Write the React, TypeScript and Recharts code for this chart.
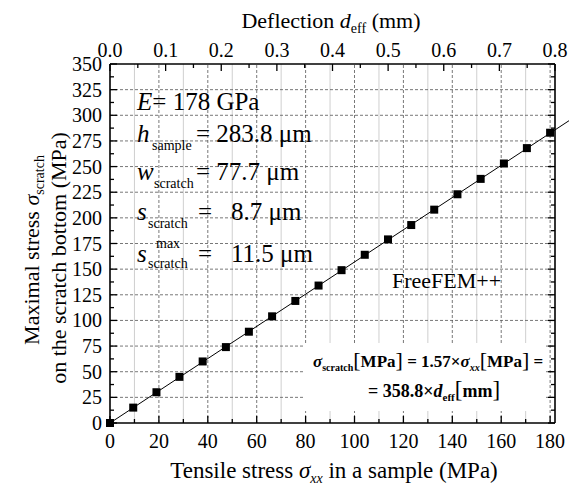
import React from "react";
import {
  ComposedChart,
  Scatter,
  XAxis,
  YAxis,
  ReferenceLine
} from "recharts";

// tensile stress in the sample (MPa) and max stress at the scratch bottom (MPa)
const stressXX = [0, 9.5, 19, 28.4, 37.9, 47.4, 56.8, 66.3, 75.8, 85.3, 94.7, 104.2, 113.7, 123.2, 132.6, 142.1, 151.6, 161.1, 170.5, 180];
const stressScratch = [0, 15, 30, 45, 60, 74, 89, 104, 119, 134, 149, 164, 179, 193, 208, 223, 238, 253, 268, 283];

// linear fit sigma_scratch = 1.57 * sigma_xx
const fitX = [0, 190];
const fitY = [0, 298.3];

const bottomTicks = [0, 10, 20, 30, 40, 50, 60, 70, 80, 90, 100, 110, 120, 130, 140, 150, 160, 170, 180];
const bottomLabels = [0, 20, 40, 60, 80, 100, 120, 140, 160, 180];
const topTicks = [0, 0.05, 0.1, 0.15, 0.2, 0.25, 0.3, 0.35, 0.4, 0.45, 0.5, 0.55, 0.6, 0.65, 0.7, 0.75, 0.8];
const topLabels = [0, 0.1, 0.2, 0.3, 0.4, 0.5, 0.6, 0.7, 0.8];
const leftTicks = [0, 12.5, 25, 37.5, 50, 62.5, 75, 87.5, 100, 112.5, 125, 137.5, 150, 162.5, 175, 187.5, 200, 212.5, 225, 237.5, 250, 262.5, 275, 287.5, 300, 312.5, 325, 337.5, 350];
const leftLabels = [0, 25, 50, 75, 100, 125, 150, 175, 200, 225, 250, 275, 300, 325, 350];

const gridMajorX = [20, 40, 60, 80, 100, 120, 140, 160, 180];
const gridMinorX = [10, 30, 50, 70, 90, 110, 130, 150, 170];
const gridMajorY = [25, 50, 75, 100, 125, 150, 175, 200, 225, 250, 275, 300, 325];

const points = stressXX.map((x, i) => ({ x, y: stressScratch[i] }));
// invisible anchor so the deflection axis gets a domain
const topAnchor = topLabels.map((d) => ({ d, y: 0 }));

const FONT = "'Liberation Serif', 'Times New Roman', serif";
const GAP = 4;

const has = (arr: number[], v: number) => arr.some((a) => Math.abs(a - v) < 1e-6);

function BottomTick(props: any) {
  const { x, y, payload } = props;
  const axisY = y - GAP;
  const major = has(bottomLabels, payload.value);
  return (
    <g>
      <line x1={x} x2={x} y1={axisY} y2={axisY - (major ? 7 : 4)} stroke="#000" strokeWidth={1.3} />
      {major && (
        <text x={x} y={axisY + 25} textAnchor="middle" fontFamily={FONT} fontSize={20} fill="#000">
          {payload.value}
        </text>
      )}
    </g>
  );
}

function TopTick(props: any) {
  const { x, y, payload } = props;
  const axisY = y + GAP;
  const major = has(topLabels, payload.value);
  return (
    <g>
      <line x1={x} x2={x} y1={axisY} y2={axisY + (major ? 7 : 4)} stroke="#000" strokeWidth={1.3} />
      {major && (
        <text x={x} y={axisY - 7} textAnchor="middle" fontFamily={FONT} fontSize={20} fill="#000">
          {Number(payload.value).toFixed(1)}
        </text>
      )}
    </g>
  );
}

function LeftTick(props: any) {
  const { x, y, payload } = props;
  const axisX = x + GAP;
  const major = has(leftLabels, payload.value);
  return (
    <g>
      <line x1={axisX} x2={axisX + (major ? 7 : 4)} y1={y} y2={y} stroke="#000" strokeWidth={1.3} />
      {major && (
        <text x={axisX - 8} y={y + 7} textAnchor="end" fontFamily={FONT} fontSize={20} fill="#000">
          {payload.value}
        </text>
      )}
    </g>
  );
}

function RightTick(props: any) {
  const { x, y, payload } = props;
  const axisX = x - GAP;
  const major = has(leftLabels, payload.value);
  return <line x1={axisX} x2={axisX - (major ? 7 : 4)} y1={y} y2={y} stroke="#000" strokeWidth={1.3} />;
}

const square = (p: any) => <rect x={p.cx - 4} y={p.cy - 4} width={8} height={8} fill="#000" />;
const nothing = () => <g />;

function Annotations() {
  const sub = { fontSize: 14 };
  return (
    <svg width={569} height={494} style={{ position: "absolute", left: 0, top: 0, pointerEvents: "none" }}>
      <g fontFamily={FONT} fill="#000">
        {/* top axis title */}
        <text x={331} y={28} textAnchor="middle" fontSize={22}>
          Deflection <tspan fontStyle="italic">d</tspan>
          <tspan fontSize={14} dy={5}>eff</tspan>
          <tspan dy={-5}> (mm)</tspan>
        </text>
        {/* bottom axis title */}
        <text x={334} y={478} textAnchor="middle" fontSize={23}>
          Tensile stress <tspan fontStyle="italic">σ</tspan>
          <tspan fontSize={14} fontStyle="italic" dy={5}>xx</tspan>
          <tspan dy={-5}> in a sample (MPa)</tspan>
        </text>
        {/* left axis title */}
        <text transform="rotate(-90 39 250)" x={39} y={250} textAnchor="middle" fontSize={22}>
          Maximal stress <tspan fontStyle="italic">σ</tspan>
          <tspan fontSize={14} dy={5}>scratch</tspan>
        </text>
        <text transform="rotate(-90 66 258)" x={66} y={258} textAnchor="middle" fontSize={22}>
          on the scratch bottom (MPa)
        </text>

        {/* parameters */}
        <g fontSize={25}>
          <text x={137} y={110}>
            <tspan fontStyle="italic">E</tspan>= 178 GPa
          </text>
          <text x={137} y={142}>
            <tspan fontStyle="italic">h</tspan>
          </text>
          <text x={152} y={150} {...sub}>sample</text>
          <text x={196} y={142}>= 283.8 μm</text>

          <text x={137} y={180}>
            <tspan fontStyle="italic">w</tspan>
          </text>
          <text x={154} y={188} {...sub}>scratch</text>
          <text x={196} y={180}>= 77.7 μm</text>

          <text x={137} y={220}>
            <tspan fontStyle="italic">s</tspan>
          </text>
          <text x={148} y={228} {...sub}>scratch</text>
          <text x={198} y={220}>=</text>
          <text x={231} y={220}>8.7 μm</text>

          <text x={137} y={262}>
            <tspan fontStyle="italic">s</tspan>
          </text>
          <text x={156} y={248} {...sub}>max</text>
          <text x={148} y={268} {...sub}>scratch</text>
          <text x={198} y={262}>=</text>
          <text x={231} y={262}>11.5 μm</text>
        </g>

        <text x={392} y={288} fontSize={22}>FreeFEM++</text>

        {/* fit formula */}
        <rect x={304} y={343} width={242} height={68} fill="#fff" />
        <g fontWeight="bold" fontSize={17}>
          <text x={313} y={367}>
            <tspan fontStyle="italic">σ</tspan>
            <tspan fontSize={10} dy={4}>scratch</tspan>
            <tspan dy={-4} fontSize={22} fontWeight="normal">[</tspan>
            <tspan>MPa</tspan>
            <tspan fontSize={22} fontWeight="normal">]</tspan>
            <tspan> = 1.57×</tspan>
            <tspan fontStyle="italic">σ</tspan>
            <tspan fontSize={10} fontStyle="italic" dy={4}>xx</tspan>
            <tspan dy={-4} fontSize={22} fontWeight="normal">[</tspan>
            <tspan>MPa</tspan>
            <tspan fontSize={22} fontWeight="normal">]</tspan>
            <tspan> =</tspan>
          </text>
          <text x={368} y={397} fontSize={18}>
            = 358.8×<tspan fontStyle="italic">d</tspan>
            <tspan fontSize={11} dy={4}>eff</tspan>
            <tspan dy={-4} fontSize={23} fontWeight="normal">[</tspan>
            <tspan>mm</tspan>
            <tspan fontSize={23} fontWeight="normal">]</tspan>
          </text>
        </g>
      </g>
    </svg>
  );
}

export default function App() {
  return (
    <div style={{ position: "absolute", left: 0, top: 0, width: 569, height: 494, background: "#fff" }}>
      <ComposedChart width={569} height={494} margin={{ top: 0, right: 0, bottom: 0, left: 0 }}>
        <XAxis
          xAxisId="bottom"
          type="number"
          dataKey="x"
          domain={[0, 182]}
          ticks={bottomTicks}
          interval={0}
          height={71}
          tickSize={0}
          tickMargin={GAP}
          tickLine={false}
          axisLine={{ stroke: "#000", strokeWidth: 1.6 }}
          tick={(p: any) => <BottomTick {...p} />}
        />
        <XAxis
          xAxisId="top"
          orientation="top"
          type="number"
          dataKey="d"
          domain={[0, 0.8]}
          ticks={topTicks}
          interval={0}
          height={64}
          tickSize={0}
          tickMargin={GAP}
          tickLine={false}
          axisLine={{ stroke: "#000", strokeWidth: 1.6 }}
          tick={(p: any) => <TopTick {...p} />}
        />
        <YAxis
          yAxisId="left"
          type="number"
          dataKey="y"
          domain={[0, 350]}
          ticks={leftTicks}
          interval={0}
          width={110}
          tickSize={0}
          tickMargin={GAP}
          tickLine={false}
          axisLine={{ stroke: "#000", strokeWidth: 1.6 }}
          tick={(p: any) => <LeftTick {...p} />}
        />
        <YAxis
          yAxisId="right"
          orientation="right"
          type="number"
          domain={[0, 350]}
          ticks={leftTicks}
          interval={0}
          width={14}
          tickSize={0}
          tickMargin={GAP}
          tickLine={false}
          axisLine={{ stroke: "#000", strokeWidth: 1.6 }}
          tick={(p: any) => <RightTick {...p} />}
        />
        {gridMinorX.map((v) => (
          <ReferenceLine key={"mx" + v} x={v} xAxisId="bottom" yAxisId="left" stroke="#cfcfcf" strokeWidth={1} />
        ))}
        {gridMajorX.map((v) => (
          <ReferenceLine key={"gx" + v} x={v} xAxisId="bottom" yAxisId="left" stroke="#555" strokeWidth={0.8} strokeDasharray="3 2" />
        ))}
        {gridMajorY.map((v) => (
          <ReferenceLine key={"gy" + v} y={v} xAxisId="bottom" yAxisId="left" stroke="#555" strokeWidth={0.8} strokeDasharray="3 2" />
        ))}
        <ReferenceLine
          xAxisId="bottom"
          yAxisId="left"
          segment={[
            { x: fitX[0], y: fitY[0] },
            { x: fitX[1], y: fitY[1] }
          ]}
          ifOverflow="visible"
          stroke="#000"
          strokeWidth={1}
        />
        <Scatter
          xAxisId="top"
          yAxisId="right"
          data={topAnchor}
          dataKey="y"
          shape={nothing}
          isAnimationActive={false}
        />
        <Scatter
          xAxisId="bottom"
          yAxisId="left"
          data={points}
          dataKey="y"
          shape={square}
          isAnimationActive={false}
        />
      </ComposedChart>
      <Annotations />
    </div>
  );
}
